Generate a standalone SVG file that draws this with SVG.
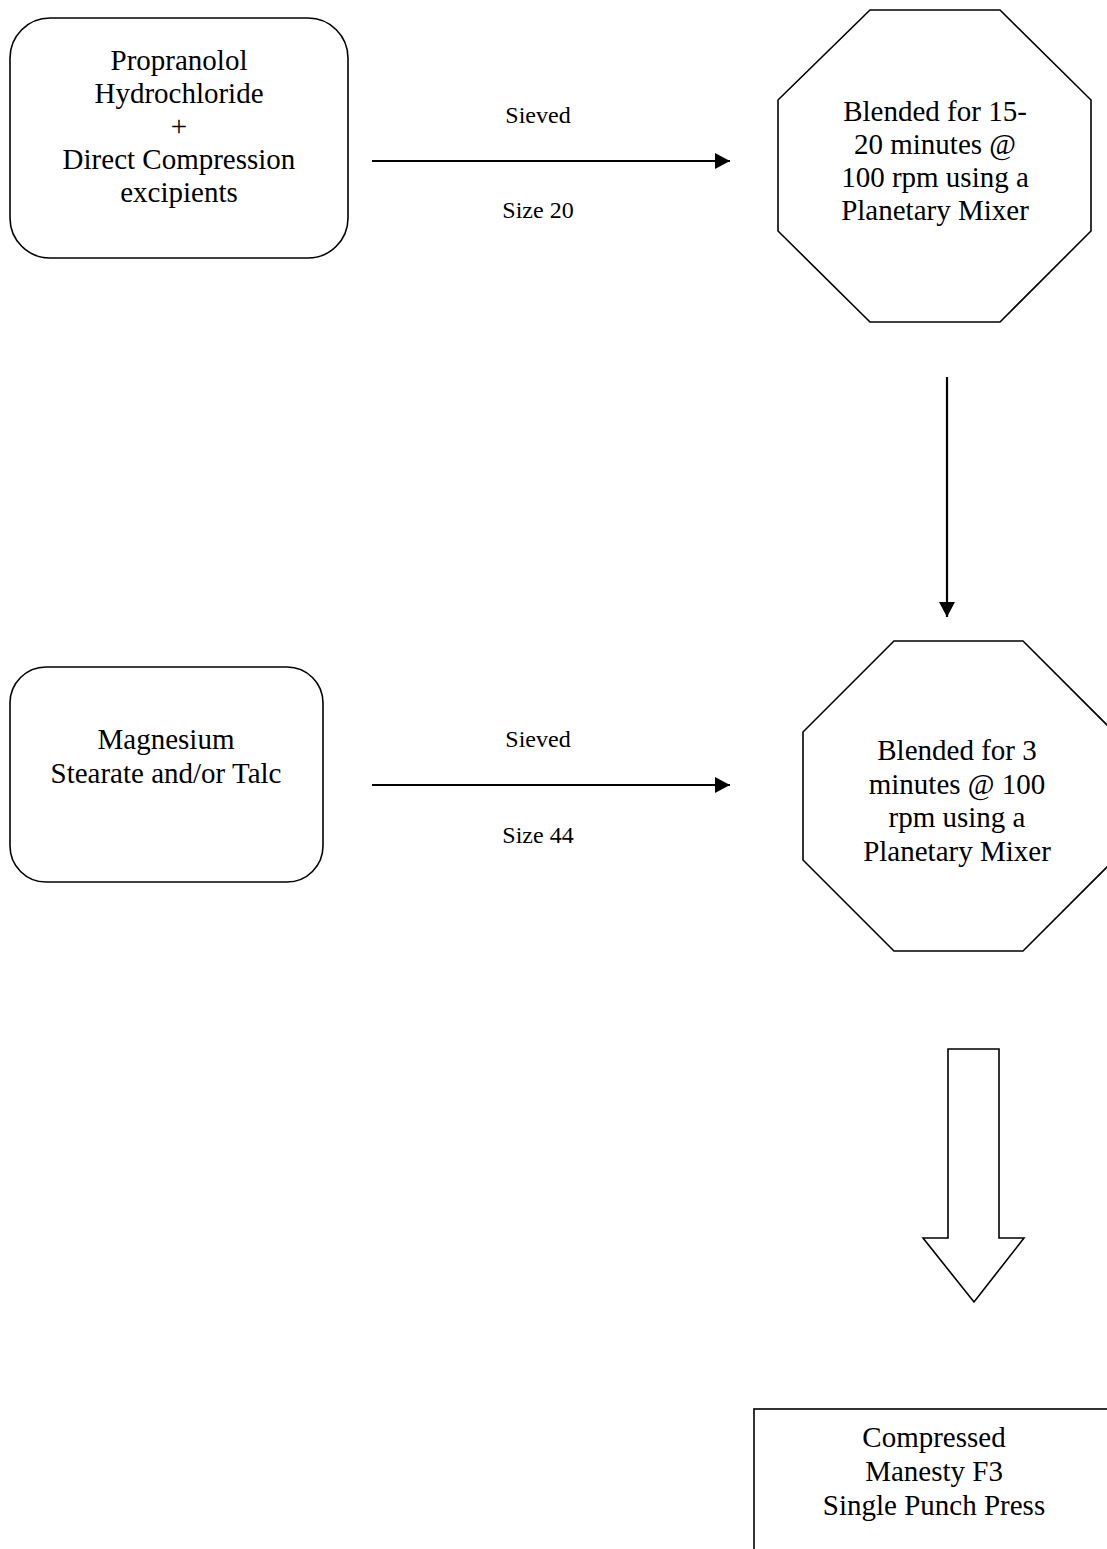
<svg xmlns="http://www.w3.org/2000/svg" width="1107" height="1549" viewBox="0 0 1107 1549">
<style>
.shape{fill:#fff;stroke:#000;stroke-width:1.6}
.t{font-family:"Liberation Serif","Times New Roman",serif;font-size:29px;text-anchor:middle;fill:#000}
.lbl{font-family:"Liberation Serif","Times New Roman",serif;font-size:24px;text-anchor:middle;fill:#000}
.conn{stroke:#000;stroke-width:2.2;fill:none}
</style>
<defs>
<marker id="ah" markerWidth="16" markerHeight="16" refX="15" refY="8" orient="auto" markerUnits="userSpaceOnUse">
<path d="M0,0 L15,8 L0,16 Z" fill="#000"/>
</marker>
</defs>
<rect width="1107" height="1549" fill="#fff"/>
<g id="node-propranolol">
<rect class="shape" x="10" y="18" width="338" height="240" rx="40" ry="40"/>
<text class="t" x="179" y="70">Propranolol</text>
<text class="t" x="179" y="103">Hydrochloride</text>
<text class="t" x="179" y="136">+</text>
<text class="t" x="179" y="169">Direct Compression</text>
<text class="t" x="179" y="202">excipients</text>
</g>
<g id="node-blend1">
<polygon class="shape" points="870,10 1000,10 1091,100 1091,231 1000,322 870,322 778,231 778,100"/>
<text class="t" x="935" y="121">Blended for 15-</text>
<text class="t" x="935" y="154">20 minutes @</text>
<text class="t" x="935" y="187">100 rpm using a</text>
<text class="t" x="935" y="220">Planetary Mixer</text>
</g>
<g id="node-magnesium">
<rect class="shape" x="10" y="667" width="313" height="215" rx="36" ry="36"/>
<text class="t" x="166" y="749">Magnesium</text>
<text class="t" x="166" y="783">Stearate and/or Talc</text>
</g>
<g id="node-blend2">
<polygon class="shape" points="894,641 1023,641 1114,732 1114,860 1023,951 894,951 803,860 803,732"/>
<text class="t" x="957" y="760">Blended for 3</text>
<text class="t" x="957" y="794">minutes @ 100</text>
<text class="t" x="957" y="827">rpm using a</text>
<text class="t" x="957" y="861">Planetary Mixer</text>
</g>
<g id="node-compressed">
<rect class="shape" x="754" y="1409" width="370" height="200"/>
<text class="t" x="934" y="1447">Compressed</text>
<text class="t" x="934" y="1481">Manesty F3</text>
<text class="t" x="934" y="1515">Single Punch Press</text>
</g>
<g id="connectors">
<line class="conn" x1="372" y1="161" x2="730" y2="161" marker-end="url(#ah)"/>
<text class="lbl" x="538" y="123">Sieved</text>
<text class="lbl" x="538" y="218">Size 20</text>
<line class="conn" x1="947" y1="377" x2="947" y2="617" marker-end="url(#ah)"/>
<line class="conn" x1="372" y1="785" x2="730" y2="785" marker-end="url(#ah)"/>
<text class="lbl" x="538" y="747">Sieved</text>
<text class="lbl" x="538" y="843">Size 44</text>
<polygon class="shape" points="948,1049 999,1049 999,1238 1024,1238 974,1302 923,1238 948,1238"/>
</g>
</svg>
